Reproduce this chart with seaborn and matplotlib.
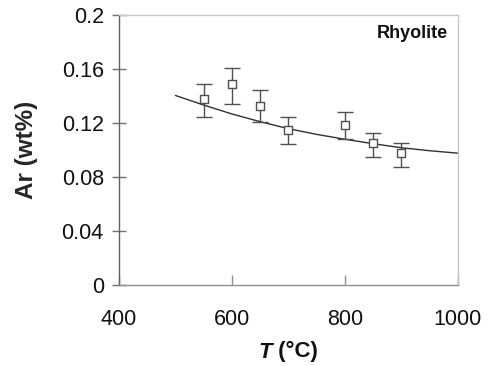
import matplotlib
matplotlib.use("Agg")
import matplotlib.pyplot as plt
import seaborn as sns
import pandas as pd
import numpy as np

# Data
temp_c = [550, 600, 650, 700, 800, 850, 900]
ar_wt = [0.1378, 0.1489, 0.1327, 0.1148, 0.1188, 0.1050, 0.0975]
err_low = [0.1244, 0.1343, 0.1210, 0.1042, 0.1079, 0.0950, 0.0876]
err_high = [0.1491, 0.1605, 0.1442, 0.1242, 0.1279, 0.1128, 0.1054]

fit_t = [500, 550, 600, 650, 700, 750, 800, 850, 900, 950, 1000]
fit_ar = [0.1404, 0.1333, 0.1267, 0.1210, 0.1158, 0.1116, 0.1080, 0.1047, 0.1017, 0.0995, 0.0977]

x_ticks = [400, 600, 800, 1000]
y_ticks = [0, 0.04, 0.08, 0.12, 0.16, 0.2]
y_tick_labels = ["0", "0.04", "0.08", "0.12", "0.16", "0.2"]

sns.set_theme(style="white")
plt.rcParams['font.family'] = ['Liberation Sans', 'DejaVu Sans']

fig = plt.figure(figsize=(4.94, 3.66), dpi=100)
ax = fig.add_axes([0.241, 0.221, 0.686, 0.738])

pts = pd.DataFrame({"T": temp_c, "Ar": ar_wt})
fit = pd.DataFrame({"T": fit_t, "Ar": fit_ar})

sns.lineplot(data=fit, x="T", y="Ar", ax=ax, color="#303030", linewidth=1.0, zorder=2)
yerr = np.array([np.array(ar_wt) - np.array(err_low), np.array(err_high) - np.array(ar_wt)])
ax.errorbar(temp_c, ar_wt, yerr=yerr, fmt="none", ecolor="#505050", elinewidth=1.0,
            capsize=6, capthick=1.0, zorder=3)
sns.scatterplot(data=pts, x="T", y="Ar", ax=ax, marker="s", s=28, facecolor="white",
                edgecolor="#505050", linewidth=1.0, zorder=4)

ax.set_xlim(400, 1000)
ax.set_ylim(0, 0.2)
ax.set_xticks(x_ticks)
ax.set_xticklabels([str(t) for t in x_ticks])
ax.set_yticks(y_ticks)
ax.set_yticklabels(y_tick_labels)

ax.tick_params(axis="y", direction="inout", length=10, width=1, color="#707070",
               labelsize=15.5, labelcolor="#111111", pad=6, left=True)
ax.tick_params(axis="x", direction="in", length=7, width=1, color="#909090",
               labelsize=15.5, labelcolor="#111111", pad=17, bottom=True)

for side, col in [("left", "#606060"), ("bottom", "#909090"), ("top", "#c8c8c8"), ("right", "#c8c8c8")]:
    ax.spines[side].set_visible(True)
    ax.spines[side].set_color(col)
    ax.spines[side].set_linewidth(1.0)

ax.set_ylabel("Ar (wt%)", fontsize=17.5, fontweight="bold")
ax.yaxis.set_label_coords((26 - 119) / 339, 0.5)
ax.yaxis.label.set_va("center")
ax.set_xlabel("")
t1 = ax.text(0.0, 0.0, "T", fontsize=16, fontweight="bold", fontstyle="italic",
             color="#111111", transform=fig.transFigure, ha="left", va="center")
t1.set_position((258 / 494, 1 - 352 / 366))
ax.annotate(" (°C)", xy=(1, 0), xycoords=t1, xytext=(0, 0), textcoords="offset points",
            ha="left", va="bottom", fontsize=16, fontweight="bold", color="#111111")
ax.text(448 / 494, 1 - 33 / 366, "Rhyolite", transform=fig.transFigure, ha="right", va="center",
        fontsize=13, fontweight="bold", color="#111111")

fig.savefig("out.png", dpi=100)
